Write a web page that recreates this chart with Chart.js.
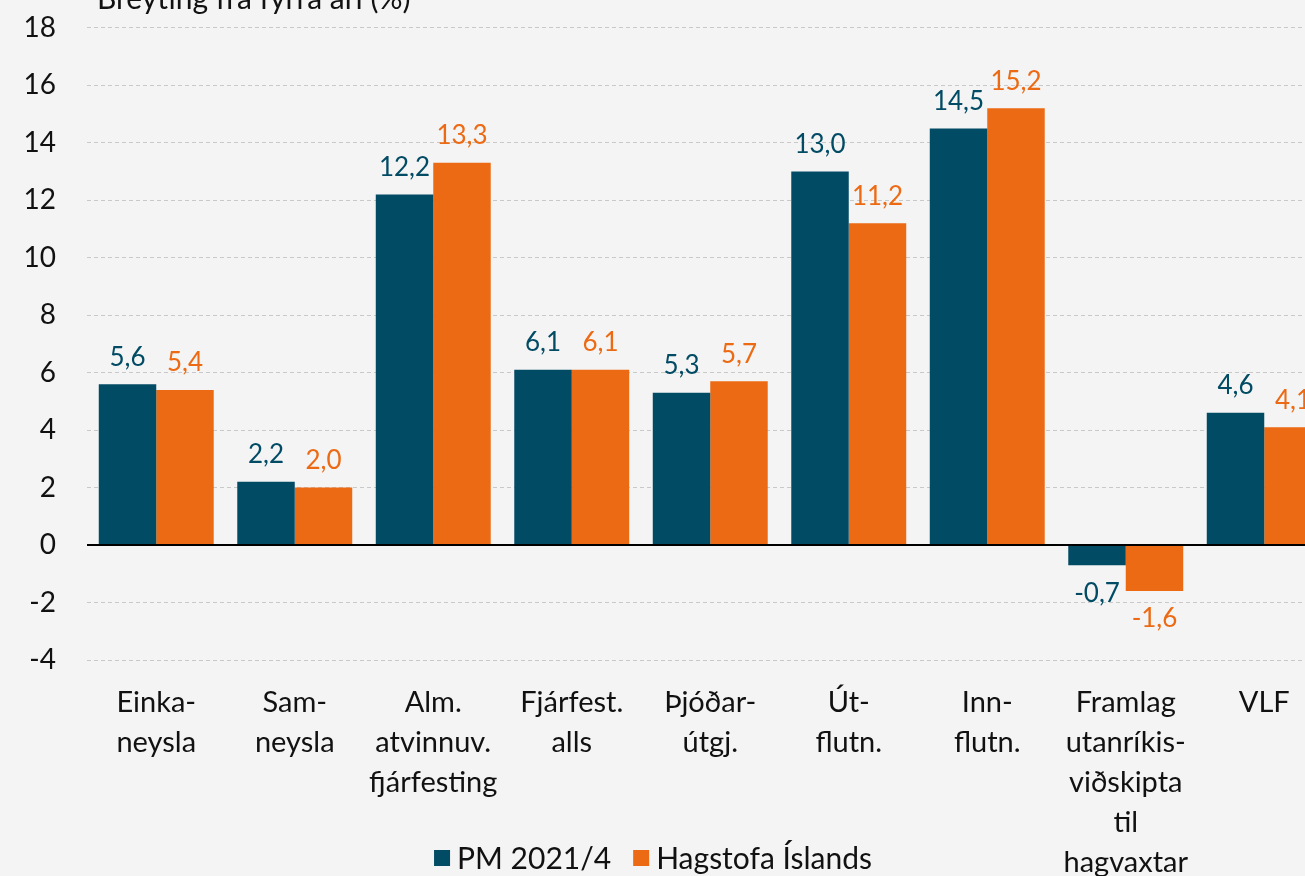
<!DOCTYPE html>
<html>
<head>
<meta charset="utf-8">
<script src="https://cdn.jsdelivr.net/npm/chart.js@4"></script>
<style>
  html, body { margin: 0; padding: 0; background: #f4f4f4; overflow: hidden; }
  #wrap { position: absolute; left: 0; top: -20px; }
</style>
</head>
<body>
<div id="wrap"><canvas id="chart" width="1345" height="900"></canvas></div>
<script>
const categories = [
    ['Einka-', 'neysla'],
    ['Sam-', 'neysla'],
    ['Alm.', 'atvinnuv.', 'fjárfesting'],
    ['Fjárfest.', 'alls'],
    ['Þjóðar-', 'útgj.'],
    ['Út-', 'flutn.'],
    ['Inn-', 'flutn.'],
    ['Framlag', 'utanríkis-', 'viðskipta', 'til', 'hagvaxtar'],
    ['VLF']
];
const pmValues = [5.6, 2.2, 12.2, 6.1, 5.3, 13.0, 14.5, -0.7, 4.6];
const hagstofaValues = [5.4, 2.0, 13.3, 6.1, 5.7, 11.2, 15.2, -1.6, 4.1];
const seriesNames = ['PM 2021/4', 'Hagstofa Íslands'];
const yTitle = 'Breyting frá fyrra ári (%)';

const seriesColors = ['#024b64', '#ec6a13'];
const textColor = '#111111';
const fontFamily = 'Lato, "Open Sans", sans-serif';

const fmt = v => v.toFixed(1).replace('.', ',');

const valueLabels = {
    id: 'valueLabels',
    afterDatasetsDraw(chart) {
        const ctx = chart.ctx;
        ctx.save();
        ctx.font = '26px ' + fontFamily;
        ctx.textAlign = 'center';
        ctx.textBaseline = 'middle';
        chart.data.datasets.forEach((ds, i) => {
            chart.getDatasetMeta(i).data.forEach((bar, j) => {
                const v = ds.data[j];
                ctx.fillStyle = ds.backgroundColor;
                const y = v >= 0 ? bar.y - 27 : bar.y + 28;
                ctx.fillText(fmt(v), bar.x, y);
            });
        });
        ctx.restore();
    }
};

const extras = {
    id: 'extras',
    afterDraw(chart) {
        const ctx = chart.ctx;
        ctx.save();
        ctx.font = '30px ' + fontFamily;
        ctx.fillStyle = textColor;
        ctx.textBaseline = 'alphabetic';
        ctx.textAlign = 'left';
        ctx.fillText(yTitle, 97, 29);

        // legend
        const box = 16, gapText = 7, gapItem = 22;
        const widths = chart.data.datasets.map(ds => ctx.measureText(ds.label).width);
        let total = 0;
        widths.forEach((w, i) => { total += box + gapText + w + (i > 0 ? gapItem : 0); });
        let x = 653 - total / 2;
        const cy = 878;
        ctx.textBaseline = 'middle';
        chart.data.datasets.forEach((ds, i) => {
            ctx.fillStyle = ds.backgroundColor;
            ctx.fillRect(x, cy - box / 2, box, box);
            x += box + gapText;
            ctx.fillStyle = textColor;
            ctx.fillText(ds.label, x, cy + 1);
            x += widths[i] + gapItem;
        });
        ctx.restore();
    }
};

new Chart(document.getElementById('chart'), {
    type: 'bar',
    data: {
        labels: categories,
        datasets: [
            { label: seriesNames[0], data: pmValues, backgroundColor: seriesColors[0] },
            { label: seriesNames[1], data: hagstofaValues, backgroundColor: seriesColors[1] }
        ]
    },
    options: {
        responsive: false,
        animation: false,
        layout: { padding: { top: 47, right: 11.5, left: 0, bottom: 0 } },
        datasets: {
            bar: { categoryPercentage: 0.83, barPercentage: 1.0 }
        },
        plugins: {
            legend: { display: false },
            title: { display: false },
            tooltip: { enabled: false }
        },
        scales: {
            x: {
                grid: { display: false },
                border: { display: false },
                ticks: {
                    color: textColor,
                    font: { family: fontFamily, size: 29, lineHeight: '40px' },
                    padding: 15,
                    maxRotation: 0,
                    autoSkip: false
                },
                afterFit(scale) { scale.height = 220; }
            },
            y: {
                min: -4,
                max: 18,
                ticks: {
                    stepSize: 2,
                    color: textColor,
                    font: { family: fontFamily, size: 28 },
                    padding: 31
                },
                grid: {
                    drawTicks: false,
                    color: c => c.tick && c.tick.value === 0 ? '#000000' : '#c9c9c9',
                    lineWidth: c => c.tick && c.tick.value === 0 ? 2 : 1
                },
                border: {
                    display: false,
                    dash: c => c.tick && c.tick.value === 0 ? [] : [4, 3]
                },
                afterFit(scale) { scale.width = 87; }
            }
        }
    },
    plugins: [valueLabels, extras]
});
</script>
</body>
</html>
